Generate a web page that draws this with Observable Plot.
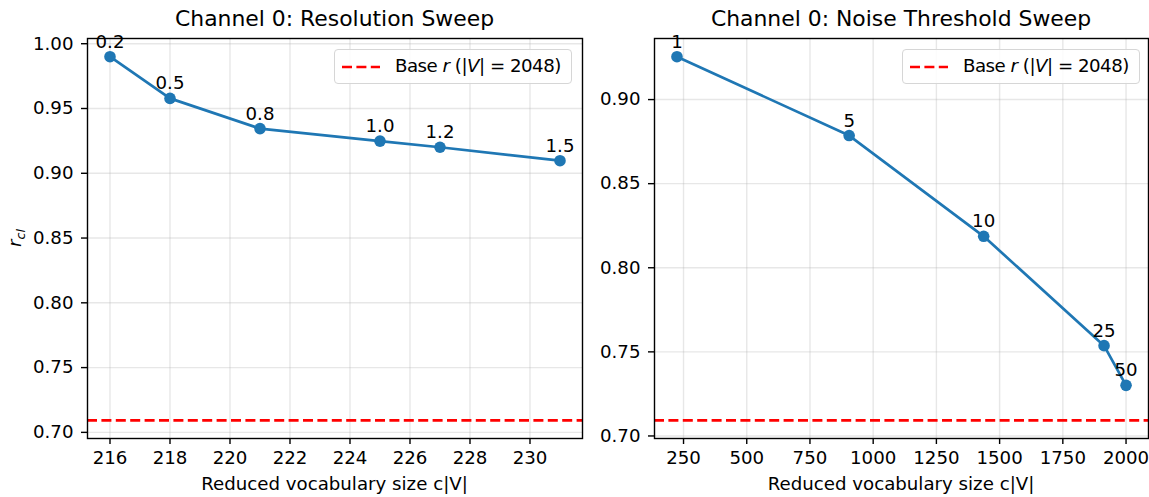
<!DOCTYPE html>
<html>
<head>
<meta charset="utf-8">
<script src="https://cdn.jsdelivr.net/npm/d3@7"></script>
<script src="https://cdn.jsdelivr.net/npm/@observablehq/plot@0.6"></script>
<style>
  html, body { margin: 0; padding: 0; background: white; }
  #wrap { position: relative; width: 1149px; height: 497px; font-family: "DejaVu Sans", sans-serif; color: black; overflow: hidden; }
  .title { position: absolute; top: 6px; font-size: 21.9px; line-height: 26px; white-space: nowrap; transform: translateX(-50%); }
  .xlabel { position: absolute; top: 473px; font-size: 18.2px; line-height: 21px; white-space: nowrap; transform: translateX(-50%); }
  .ylabel { position: absolute; font-size: 18.2px; white-space: nowrap; transform: translate(-50%, -50%) rotate(-90deg); }
  .legend { position: absolute; top: 49px; height: 35px; width: 238px; border: 1px solid #d6d6d6; border-radius: 4px; background: rgba(255,255,255,0.85); font-size: 18.2px; white-space: nowrap; box-sizing: border-box; }
  .legend svg { position: absolute; left: 7px; top: 14px; }
  .legend span { position: absolute; left: 60px; top: 5px; line-height: 22px; letter-spacing: -0.5px; }
  .panel { position: absolute; top: 30px; }
</style>
</head>
<body>
<div id="wrap"></div>
<script>
// Left panel: Resolution sweep
const resX = [216, 218, 221, 225, 227, 231];
const resY = [0.990, 0.9578, 0.9345, 0.9248, 0.9201, 0.9097];
const resLabels = ["0.2", "0.5", "0.8", "1.0", "1.2", "1.5"];
const resXTicks = [216, 218, 220, 222, 224, 226, 228, 230];
const resYTicks = [0.70, 0.75, 0.80, 0.85, 0.90, 0.95, 1.00];

// Right panel: Noise threshold sweep
const noiseX = [224, 905, 1437, 1913, 2000];
const noiseY = [0.9255, 0.8786, 0.8187, 0.7537, 0.7301];
const noiseLabels = ["1", "5", "10", "25", "50"];
const noiseXTicks = [250, 500, 750, 1000, 1250, 1500, 1750, 2000];
const noiseYTicks = [0.70, 0.75, 0.80, 0.85, 0.90];

// Baseline
const baseR = 0.7093;

const titles = ["Channel 0: Resolution Sweep", "Channel 0: Noise Threshold Sweep"];
const xLabel = "Reduced vocabulary size c|V|";

const BLUE = "#1f77b4";
const wrap = document.getElementById("wrap");

function panel({xs, ys, labels, xTicks, yTicks, xFmt, width, marginLeft, marginRight}) {
  const data = xs.map((x, i) => ({x, y: ys[i], label: labels[i]}));
  const xmin = d3.min(xs), xmax = d3.max(xs);
  const xpad = (xmax - xmin) * 0.05;
  const ymin = Math.min(d3.min(ys), baseR), ymax = Math.max(d3.max(ys), baseR);
  const ypad = (ymax - ymin) * 0.05;
  return Plot.plot({
    width, height: 467,
    marginLeft, marginRight, marginTop: 8, marginBottom: 59,
    style: {fontFamily: "DejaVu Sans, sans-serif", fontSize: "18.2px", color: "black", background: "transparent", overflow: "visible"},
    x: {domain: [xmin - xpad, xmax + xpad]},
    y: {domain: [ymin - ypad, ymax + ypad]},
    marks: [
      Plot.gridX(xTicks, {stroke: "#b0b0b0", strokeOpacity: 0.3, strokeWidth: 1.4}),
      Plot.gridY(yTicks, {stroke: "#b0b0b0", strokeOpacity: 0.3, strokeWidth: 1.4}),
      Plot.axisX(xTicks, {tickSize: 6, tickPadding: 7, tickFormat: xFmt, label: null, fontSize: 18.2, stroke: "black", strokeWidth: 1.4}),
      Plot.axisY(yTicks, {tickSize: 6, tickPadding: 8, tickFormat: d3.format(".2f"), label: null, fontSize: 18.2, stroke: "black", strokeWidth: 1.4}),
      Plot.ruleY([baseR], {stroke: "red", strokeWidth: 2.7, strokeDasharray: "10,4.4"}),
      Plot.line(data, {x: "x", y: "y", stroke: BLUE, strokeWidth: 2.7}),
      Plot.dot(data, {x: "x", y: "y", r: 5.8, fill: BLUE, stroke: "none"}),
      Plot.text(data, {x: "x", y: "y", text: "label", dy: -9, lineAnchor: "bottom", textAnchor: "middle", fontSize: 18.2, fill: "black"}),
      Plot.frame({stroke: "black", strokeWidth: 1.4})
    ]
  });
}

function addPanel(left, opts, title, frameL, frameR, legendLeft, withYLabel) {
  const div = document.createElement("div");
  div.className = "panel";
  div.style.left = left + "px";
  div.appendChild(panel(opts));
  wrap.appendChild(div);
  const cx = (frameL + frameR) / 2;
  const t = document.createElement("div");
  t.className = "title"; t.style.left = cx + "px"; t.textContent = title;
  wrap.appendChild(t);
  const xl = document.createElement("div");
  xl.className = "xlabel"; xl.style.left = cx + "px"; xl.textContent = xLabel;
  wrap.appendChild(xl);
  const lg = document.createElement("div");
  lg.className = "legend";
  lg.style.left = legendLeft + "px";
  lg.innerHTML = '<svg width="38" height="6"><line x1="0" x2="38" y1="3" y2="3" stroke="red" stroke-width="2.7" stroke-dasharray="10,4.4"/></svg>' +
    '<span>Base <i>r</i> (|<i>V</i>| = 2048)</span>';
  wrap.appendChild(lg);
  if (withYLabel) {
    const yl = document.createElement("div");
    yl.className = "ylabel"; yl.style.left = "16px"; yl.style.top = "238px";
    yl.innerHTML = '<i>r</i><sub style="font-size:12.7px"><i>cl</i></sub>';
    wrap.appendChild(yl);
  }
}

addPanel(0, {xs: resX, ys: resY, labels: resLabels, xTicks: resXTicks, yTicks: resYTicks,
  xFmt: d3.format("d"), width: 590, marginLeft: 87, marginRight: 8}, titles[0], 87, 582, 334, true);
addPanel(590, {xs: noiseX, ys: noiseY, labels: noiseLabels, xTicks: noiseXTicks, yTicks: noiseYTicks,
  xFmt: d3.format("d"), width: 559, marginLeft: 64, marginRight: 1}, titles[1], 654, 1148, 902, false);
</script>
</body>
</html>
